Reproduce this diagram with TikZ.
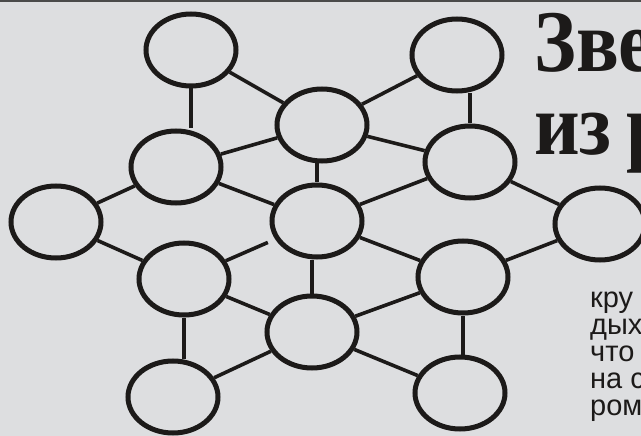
\documentclass[tikz,border=0pt]{standalone}
\usepackage{fontspec}
\setmainfont{Liberation Serif}
\newfontfamily\headfont[FakeStretch=0.9]{Liberation Serif}
\newfontfamily\bodyfont{Liberation Sans}
\usetikzlibrary{shapes.geometric}
\definecolor{paper}{HTML}{DDDEE0}
\definecolor{ink}{HTML}{1C1A19}
\definecolor{rulegrey}{HTML}{4A4A4A}

\begin{document}
\begin{tikzpicture}[x=1pt, y=-1pt,
    cir/.style={ellipse, draw=ink, line width=5pt, minimum width=90pt, minimum height=72pt, inner sep=0pt},
    lnk/.style={draw=ink, line width=3.6pt},
    ttl/.style={font=\headfont\bfseries\fontsize{88}{88}\selectfont, text=ink, inner sep=0pt, anchor=base west},
    body/.style={font=\bodyfont\fontsize{29}{27}\selectfont, text=ink, inner sep=0pt,
                 text height=19pt, text depth=6pt, anchor=base west}]
  \useasboundingbox (0,0) rectangle (641,436);
  \fill[paper] (0,0) rectangle (641,436);
  \clip (0,0) rectangle (641,436);
  \draw[rulegrey, line width=2.5pt] (0,1.2) -- (641,1.2);
  % circles
  \node[cir] (tl) at (191,50) {};
  \node[cir] (tr) at (457,55) {};
  \node[cir] (um) at (322,125) {};
  \node[cir] (ul) at (176,167) {};
  \node[cir] (ur) at (470,162) {};
  \node[cir] (c)  at (317,221) {};
  \node[cir] (fl) at (56,222) {};
  \node[cir] (fr) at (600,224) {};
  \node[cir] (ll) at (184,279) {};
  \node[cir] (lr) at (463,277) {};
  \node[cir] (lm) at (312,332) {};
  \node[cir] (bl) at (173,397) {};
  \node[cir] (br) at (460,393) {};
  % links
  \foreach \a/\b in {tl/um, tr/um, um/ul, um/ur, ul/c, ul/fl, ur/c, ur/fr,
                     fl/ll, fr/lr, c/lr, ll/lm, lr/lm, lm/bl, lm/br}
    \draw[lnk] (\a) -- (\b);
  \foreach \a/\b in {tl/ul.north, ur/tr.south, c/um.south, lm/c.south, ll/bl.north, lr/br.north}
    \draw[lnk] (\a) -- (\a |- \b);
  \draw[lnk, shorten >=8pt] (ll) -- (c);
  % title and text
  \node[ttl] (ttl1) at (534,72) {Зве};
  \node[ttl] (ttl2) at (534,155) {из\hspace{15pt}р};
  \foreach \w [count=\i] in {кру, дых, что, на с, ром}
    \node[body] (ln\i) at (590,280+27*\i) {\w};
\end{tikzpicture}
\end{document}
